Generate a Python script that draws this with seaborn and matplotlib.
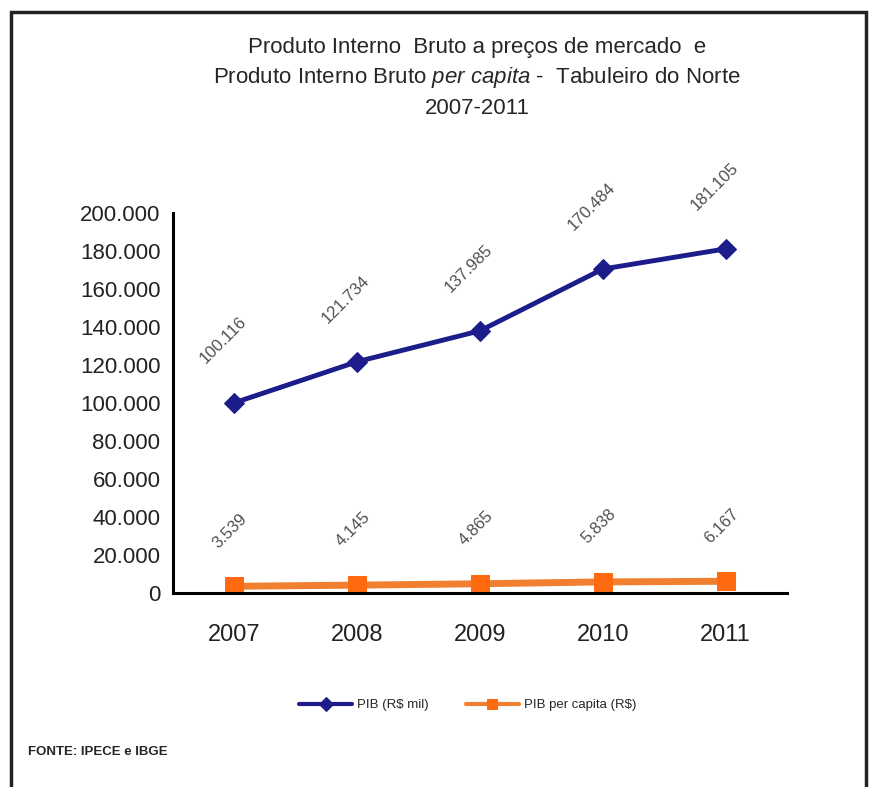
import pandas as pd
import matplotlib.pyplot as plt
import matplotlib.patches as mpatches
import matplotlib.ticker as mticker
import seaborn as sns

# Dados do grafico
anos = ["2007", "2008", "2009", "2010", "2011"]
pib_mil = [100116, 121734, 137985, 170484, 181105]
pib_per_capita = [3539, 4145, 4865, 5838, 6167]
rotulos_pib = ["100.116", "121.734", "137.985", "170.484", "181.105"]
rotulos_pc = ["3.539", "4.145", "4.865", "5.838", "6.167"]

sns.set_style("white")
plt.rcParams['font.family'] = ['Liberation Sans', 'DejaVu Sans']
plt.rcParams['mathtext.fontset'] = 'custom'
plt.rcParams['mathtext.it'] = 'Liberation Sans:italic'
plt.rcParams['mathtext.rm'] = 'Liberation Sans'

df = pd.DataFrame({"ano": anos, "pib": pib_mil, "pc": pib_per_capita})

fig = plt.figure(figsize=(8.75, 7.87), dpi=100)
ax = fig.add_axes([0.1977, 0.2465, 0.7017, 0.4829])

azul = "#1c1c8a"
laranja = "#ff6a10"

sns.lineplot(data=df, x="ano", y="pib", ax=ax, color=azul, linewidth=3.5,
             marker="D", markersize=10, markeredgecolor=azul, label="PIB (R$ mil)")
sns.lineplot(data=df, x="ano", y="pc", ax=ax, color="#f08030", linewidth=5,
             marker="s", markersize=13, markeredgecolor=laranja,
             markerfacecolor=laranja, label="PIB per capita (R$)")

# Rotulos de dados
for i, (v, t) in enumerate(zip(pib_mil, rotulos_pib)):
    ax.annotate(t, (i, v), xytext=(-8, 45), textcoords="offset points",
                rotation=45, ha="center", va="center", fontsize=12, color="#505050")
for i, (v, t) in enumerate(zip(pib_per_capita, rotulos_pc)):
    ax.annotate(t, (i, v), xytext=(-3, 40), textcoords="offset points",
                rotation=45, ha="center", va="center", fontsize=12, color="#505050")

ax.set_xlim(-0.5, 4.5)
ax.set_ylim(0, 200000)
ax.yaxis.set_major_locator(mticker.MultipleLocator(20000))
ax.yaxis.set_major_formatter(mticker.FuncFormatter(
    lambda v, p: "0" if v == 0 else f"{int(v):,}".replace(",", ".")))
ax.xaxis.set_minor_locator(mticker.FixedLocator([-0.5, 0.5, 1.5, 2.5, 3.5, 4.5]))
ax.tick_params(axis="x", which="major", length=0, labelsize=17, pad=22,
               labelcolor="#222222")
ax.tick_params(axis="x", which="minor", length=7, width=1.8, direction="out")
ax.tick_params(axis="y", length=5, width=1.8, direction="out", labelsize=16, pad=4,
               labelcolor="#222222")
ax.set_xlabel("")
ax.set_ylabel("")

for s in ["top", "right"]:
    ax.spines[s].set_visible(False)
for s in ["left", "bottom"]:
    ax.spines[s].set_linewidth(2.2)
    ax.spines[s].set_color("black")

leg = ax.legend(loc="center", bbox_to_anchor=(0.48, -0.295), ncol=2,
                frameon=False, fontsize=9.5, handlelength=4, columnspacing=2.8,
                handletextpad=0.4)
for h in leg.legend_handles:
    h.set_markersize(7)
    h.set_linewidth(3)

# Titulo
fig.text(0.545, 0.94, "Produto Interno  Bruto a preços de mercado  e", ha="center",
         va="center", fontsize=16)
fig.text(0.545, 0.901, "Produto Interno Bruto $\\it{per\\ capita}$ -  Tabuleiro do Norte",
         ha="center", va="center", fontsize=16)
fig.text(0.545, 0.862, "2007-2011", ha="center", va="center", fontsize=16)

fig.text(0.032, 0.044, "FONTE: IPECE e IBGE", ha="left", va="center",
         fontsize=9.5, fontweight="bold")

# Moldura
fig.patches.append(mpatches.Rectangle((0.012, -0.05), 0.978, 1.035,
                                      transform=fig.transFigure, fill=False,
                                      edgecolor="#222222", linewidth=2.5))

fig.savefig("out.png", dpi=100)
